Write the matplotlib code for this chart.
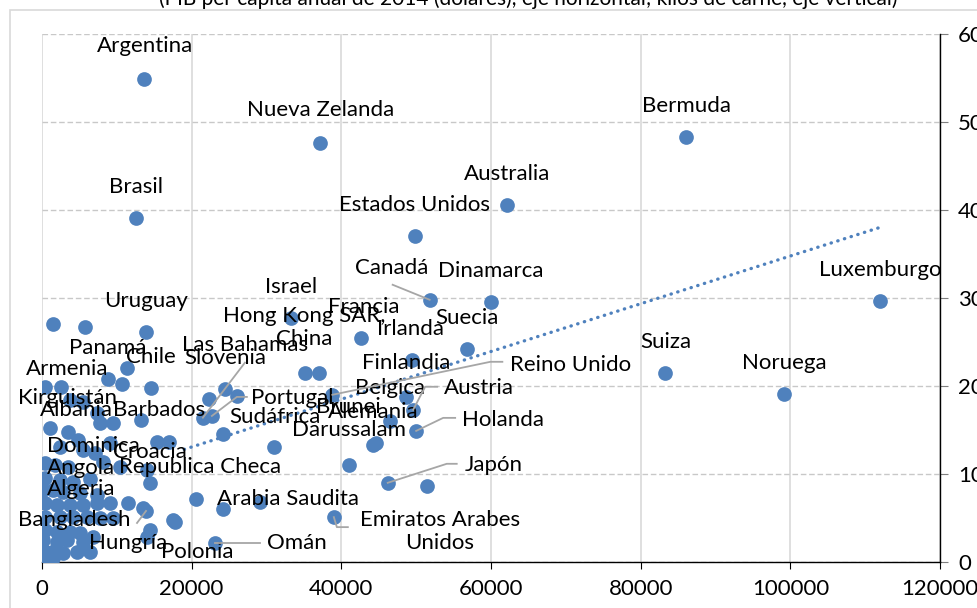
import numpy as np
import matplotlib
matplotlib.use('Agg')
import matplotlib.pyplot as plt
from matplotlib.lines import Line2D
from matplotlib.patches import Rectangle
from matplotlib.transforms import IdentityTransform

plt.rcParams['font.family'] = ['Lato', 'DejaVu Sans']

title = "(PIB per capita anual de 2014 (dólares), eje horizontal; kilos de carne, eje vertical)"

# labelled countries: PIB per capita (USD) and kilos de carne
paises = ["Argentina", "Nueva Zelanda", "Bermuda", "Brasil", "Australia", "Estados Unidos",
          "Canadá", "Dinamarca", "Luxemburgo", "Israel", "Hong Kong SAR,\nChina", "Francia",
          "Irlanda", "Suecia", "Finlandia", "Reino Unido", "Belgica", "Austria", "Alemania",
          "Holanda", "Brunei\nDarussalam", "Japón", "Emiratos Arabes\nUnidos", "Suiza", "Noruega",
          "Uruguay", "Chile", "Panamá", "Armenia", "Kirguistán", "Albania", "Barbados",
          "Dominica", "Croacia", "Republica Checa", "Angola", "Algeria", "Bangladesh",
          "Hungría", "Polonia", "Omán", "Arabia Saudita", "Sudáfrica", "Slovenia",
          "Las Bahamas", "Portugal"]
pib = [13600, 37100, 86100, 12600, 62100, 49800,
       51800, 60000, 112000, 33300, 35100, 42600,
       49400, 56800, 48600, 38800, 46500, 49600, 44200,
       50000, 41000, 46200, 39000, 83300, 99200,
       13900, 14600, 8800, 3700, 3500, 4800, 15400,
       6400, 14400, 20600, 5100, 6000, 13900,
       14000, 17800, 23100, 29100, 31000, 24500,
       21500, 22700]
carne = [54.9, 47.6, 48.3, 39.1, 40.6, 37.0,
         29.8, 29.5, 29.7, 27.7, 21.5, 25.5,
         23.0, 24.2, 18.8, 19.0, 16.0, 17.3, 13.3,
         14.9, 11.0, 9.0, 5.1, 21.5, 19.1,
         26.1, 19.8, 20.8, 18.4, 14.8, 13.9, 13.6,
         9.4, 9.0, 7.2, 7.8, 5.1, 5.8,
         2.8, 4.5, 2.2, 6.8, 13.1, 19.7,
         16.4, 16.6]

# unlabelled countries
otros_pib = [37000, 44600, 51400, 1500, 5700, 11400, 10700, 400, 2500, 22300, 26100, 24200,
             24200, 5500, 7300, 7800, 9500, 13200, 1100, 2400, 5500, 7100, 9100, 17000,
             400, 1700, 3500, 8200, 10400, 14000, 400, 2400, 4100, 100, 1500, 2800,
             7300, 400, 2000, 3700, 5500, 7300, 9100, 11500, 13500, 400, 2400, 4100,
             7800, 9500, 17500, 400, 2000, 3700, 5100, 6800, 14400, 100, 2000, 3300,
             5500, 100, 1300, 2800, 4700, 6400, 400, 1500]
otros_carne = [21.5, 13.5, 8.6, 27.0, 26.7, 22.0, 20.2, 19.9, 19.9, 18.5, 18.9, 14.5,
               6.0, 18.2, 16.9, 15.8, 15.8, 16.1, 15.2, 13.1, 12.7, 12.4, 13.5, 13.6,
               11.3, 11.0, 10.8, 11.4, 10.8, 10.5, 9.5, 9.3, 9.1, 8.2, 8.2, 8.0,
               7.6, 6.7, 6.5, 6.5, 6.5, 6.7, 6.7, 6.7, 6.1, 5.1, 5.1, 5.1,
               5.0, 5.0, 4.8, 3.6, 3.4, 3.4, 3.3, 2.8, 3.6, 2.5, 2.3, 2.5,
               2.3, 1.4, 1.1, 1.0, 1.1, 1.1, 0.45, 0.45]

# dotted trend line
tendencia_pib = [19000, 111900]
tendencia_carne = [12.8, 38.0]

x_ticks = [0, 20000, 40000, 60000, 80000, 100000, 120000]
y_ticks = [0, 10, 20, 30, 40, 50, 60]

# label offsets in pixels (dx, dy) from the point; default is straight above
label_offset = {
    "Argentina": (1, 33), "Nueva Zelanda": (1, 33), "Canadá": (-38, 32),
    "Hong Kong SAR,\nChina": (0, 45), "Francia": (3, 31), "Irlanda": (-1, 31),
    "Finlandia": (0, 34), "Reino Unido": (238, 30), "Belgica": (0, 33),
    "Austria": (66, 22), "Alemania": (0, 33), "Holanda": (87, 11),
    "Brunei\nDarussalam": (0, 47), "Japón": (106, 18), "Emiratos Arabes\nUnidos": (106, -14),
    "Armenia": (-3, 31), "Kirguistán": (-1, 34), "Albania": (-1, 30), "Barbados": (2, 32),
    "Dominica": (4, 33), "Republica Checa": (4, 32), "Angola": (1, 25), "Algeria": (-6, 28),
    "Bangladesh": (-72, -9), "Hungría": (-19, -6), "Polonia": (22, -30), "Omán": (82, 0),
    "Arabia Saudita": (28, 3), "Sudáfrica": (1, 30), "Las Bahamas": (42, 73),
    "Portugal": (80, 18),
}
# leader lines, pixel offsets from the point
leaders = {
    "Canadá": [(-37, 15), (0, 0)],
    "Reino Unido": [(170, 33), (158, 33), (0, 0)],
    "Austria": [(24, 23), (12, 23), (0, 0)],
    "Holanda": [(39, 13), (27, 13), (0, 0)],
    "Japón": [(69, 19), (59, 19), (0, 0)],
    "Emiratos Arabes\nUnidos": [(14, -10), (3, -10), (0, 0)],
    "Omán": [(45, 0), (0, 0)],
    "Bangladesh": [(-9, -12), (0, 0)],
    "Las Bahamas": [(42, 55), (0, 0)],
    "Portugal": [(35, 19), (25, 19), (0, 0)],
}

blue = '#4f81bd'
fs = 16
W, H = 977, 608

fig = plt.figure(figsize=(W / 100, H / 100), dpi=100)
fig.patches.append(Rectangle((10 / W, -0.1), 1.2, (H - 10) / H + 0.1, transform=fig.transFigure,
                             fill=False, ec='#d9d9d9', lw=1.2))
fig.text(528 / W, 1 - 5 / H, title, ha='center', va='baseline', fontsize=15)

ax = fig.add_axes([42 / W, (H - 562) / H, (940 - 42) / W, (562 - 34) / H])
ax.set_xlim(0, 120000)
ax.set_ylim(0, 60)
ax.set_xticks(x_ticks)
ax.set_yticks(y_ticks)
ax.set_xticklabels([str(v) for v in x_ticks])
ax.set_yticklabels([str(v) for v in y_ticks])
ax.yaxis.tick_right()
for s in ['top', 'left']:
    ax.spines[s].set_visible(False)
for s in ['right', 'bottom']:
    ax.spines[s].set_color('black')
    ax.spines[s].set_linewidth(1)
ax.tick_params(axis='x', direction='out', length=5, pad=7, labelsize=fs, color='black')
ax.tick_params(axis='y', direction='out', length=6, pad=7, labelsize=fs, color='#7f7f7f')
ax.xaxis.grid(True, color='#d9d9d9', lw=1.2, ls='-')
ax.yaxis.grid(True, color='#c8c8c8', lw=1, ls=(0, (4, 2)))
ax.set_axisbelow(True)

ax.scatter(otros_pib, otros_carne, s=112, color=blue, lw=0, zorder=3)
ax.scatter(pib, carne, s=112, color=blue, lw=0, zorder=3)
ax.plot(tendencia_pib, tendencia_carne, color=blue, lw=2.4, ls=(0, (0.1, 2.0)),
        dash_capstyle='round', zorder=4)

for name, x, y in zip(paises, pib, carne):
    dx, dy = label_offset.get(name, (0, 31))
    ax.annotate(name, (x, y), xytext=(dx, dy), textcoords='offset pixels',
                ha='center', va='center', fontsize=fs, linespacing=1.2, zorder=6)

ident = IdentityTransform()
for name, pts in leaders.items():
    i = paises.index(name)
    px, py = ax.transData.transform((pib[i], carne[i]))
    xs = [px + p[0] for p in pts]
    ys = [py + p[1] for p in pts]
    fig.add_artist(Line2D(xs, ys, transform=ident, color='#a6a6a6', lw=1.3, zorder=5))

fig.savefig('out.png', dpi=100)
